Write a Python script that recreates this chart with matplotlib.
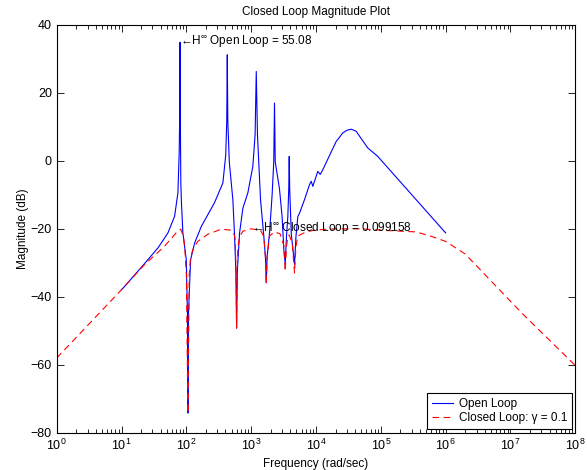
import matplotlib
matplotlib.use("Agg")
import matplotlib.pyplot as plt
from matplotlib.ticker import LogLocator, NullFormatter, FixedLocator

plt.rcParams['font.family'] = ['Liberation Sans', 'DejaVu Sans']
plt.rcParams['mathtext.fontset'] = 'custom'
plt.rcParams['mathtext.rm'] = 'Liberation Sans'
plt.rcParams['mathtext.it'] = 'Liberation Sans:italic'
plt.rcParams['mathtext.bf'] = 'Liberation Sans:bold'
plt.rcParams['font.size'] = 9

# ---- data ----
open_freq = [10, 11.2, 22.7, 36.5, 52, 65.9, 74.1, 77.5, 79.2, 80, 80.8, 82.2, 84,
             88.4, 99.8, 104, 105.7, 107.5, 116.3, 134, 170, 272, 366, 405, 420,
             428, 436, 460, 522, 555, 580, 596, 612, 662, 745, 889, 1061, 1150,
             1198, 1250, 1395, 1568, 1660, 1708, 1760, 1919, 2100, 2230, 2291,
             2350, 2735, 3000, 3190, 3350, 3500, 3675, 3800, 3863, 3930, 4148,
             4666, 4900, 5240, 5570, 6650, 7940, 8430, 8930, 10660, 11610, 12740,
             20480, 25880, 30000, 34900, 41670, 50000, 62870, 89700, 1e6]
open_db = [-38.0, -37.0, -30.3, -25.7, -21.3, -16.4, -9.5, 2, 15, 34.8, 12, -6.6, -12.4,
           -21.3, -29.2, -45.5, -74.3, -45.5, -29.2, -24.3, -19.4, -12.4, -6.6, 1.6, 11.6,
           31.1, 11.6, -0.4, -11.6, -22.3, -32.5, -49.3, -32.5, -21.3, -14.0, -9.5, -1.7, 7.6,
           26.2, 7.6, -11.6, -22.3, -28.5, -36.0, -28.5, -21.3, -10.4, -0.4, 16.9,
           -0.4, -8.4, -16.5, -26.2, -30.5, -22.5, -16.5, -8.4, 1.2, -8.4, -21.3,
           -30.6, -22.5, -16.5, -15.5, -11.5, -7.1, -6.1, -7.6, -3.2, -4.1, -2.7,
           5.6, 8.1, 8.9, 9.2, 8.6, 6.4, 3.7, 1.2, -21.3]

closed_freq = [1, 10, 22.7, 46.2, 70, 82, 90, 94.3, 100, 105.7, 111, 116, 126, 150,
               214, 346, 493, 550, 567, 585, 596, 607, 625, 662, 745, 1000, 1395,
               1568, 1660, 1708, 1760, 1919, 2300, 2800, 3190, 3350, 3500, 3675,
               3863, 4300, 4666, 4900, 5240, 7000, 1e4, 2e4, 5e4, 1e5, 3.5e5, 6e5,
               1e6, 2e6, 3e6, 1e7, 1.54e7, 1e8]
closed_db = [-58.1, -38.0, -30.6, -25.2, -21.2, -20.2, -22.4, -25.1, -33.5, -74.3, -33.5,
             -28.5, -26.2, -23.8, -21.7, -20.2, -20.5, -21.9, -23.3, -32.5, -49.3, -32.5,
             -25.4, -22.4, -20.8, -20.1, -20.5, -22.4, -28.5, -36.3, -28.5, -22.2, -21.0,
             -21.6, -25.0, -32.6, -25.4, -22.4, -21.9, -24.4, -33.1, -25.4, -22.2, -21.0,
             -20.4, -20.1, -20.1, -20.5, -21.0, -22.3, -23.8, -27.5, -31.0, -41.4,
             -45.1, -60.3]

hinf_open = 55.08
hinf_open_db = 34.82
hinf_open_freq = 79
hinf_closed = 0.099158
hinf_closed_db = -20.07
hinf_closed_freq = 1040
gamma = 0.1

x_ticks = [1e0, 1e1, 1e2, 1e3, 1e4, 1e5, 1e6, 1e7, 1e8]
y_ticks = [-80, -60, -40, -20, 0, 20, 40]

# ---- figure ----
fig = plt.figure(figsize=(5.87, 4.70), dpi=100)
ax = fig.add_axes([56.7/587, (470-432.5)/470, (575.3-56.7)/587, (432.5-24.5)/470])

ax.semilogx(open_freq, open_db, color='#0000ff', lw=0.8, label='Open Loop')
ax.semilogx(closed_freq, closed_db, color='#ff0000', lw=0.8,
            linestyle=(0, (6, 4)), label='Closed Loop: \u03b3 = %g' % gamma)

ax.set_xlim(1e0, 1e8)
ax.set_ylim(-80, 40)
ax.xaxis.set_major_locator(FixedLocator(x_ticks))
ax.xaxis.set_minor_locator(LogLocator(base=10, subs=range(2, 10), numticks=20))
ax.xaxis.set_minor_formatter(NullFormatter())
ax.set_yticks(y_ticks)

ax.tick_params(which='both', direction='in', top=True, right=True, labelsize=9,
               width=0.6)
ax.tick_params(which='major', length=5)
ax.tick_params(which='minor', length=3)
for s in ax.spines.values():
    s.set_linewidth(0.8)

ax.text(hinf_open_freq, hinf_open_db,
        '\u2190H$^{\\infty}$ Open Loop = %.2f' % hinf_open,
        ha='left', va='center', fontsize=8.5)
ax.text(hinf_closed_freq, hinf_closed_db,
        '\u2190H$^{\\infty}$ Closed Loop = %g' % hinf_closed,
        ha='left', va='center', fontsize=8.5)

ax.set_title('Closed Loop Magnitude Plot', fontsize=8.5, pad=7)
ax.set_xlabel('Frequency (rad/sec)', fontsize=8.5, labelpad=4)
ax.set_ylabel('Magnitude (dB)', fontsize=8.5, labelpad=1)

leg = ax.legend(loc='lower right', fontsize=8.5, fancybox=False, framealpha=1,
                edgecolor='black', borderaxespad=0.3, handlelength=1.75,
                handletextpad=0.5, borderpad=0.4, labelspacing=0.2)
leg.get_frame().set_linewidth(0.8)

fig.savefig('out.png', dpi=100)
